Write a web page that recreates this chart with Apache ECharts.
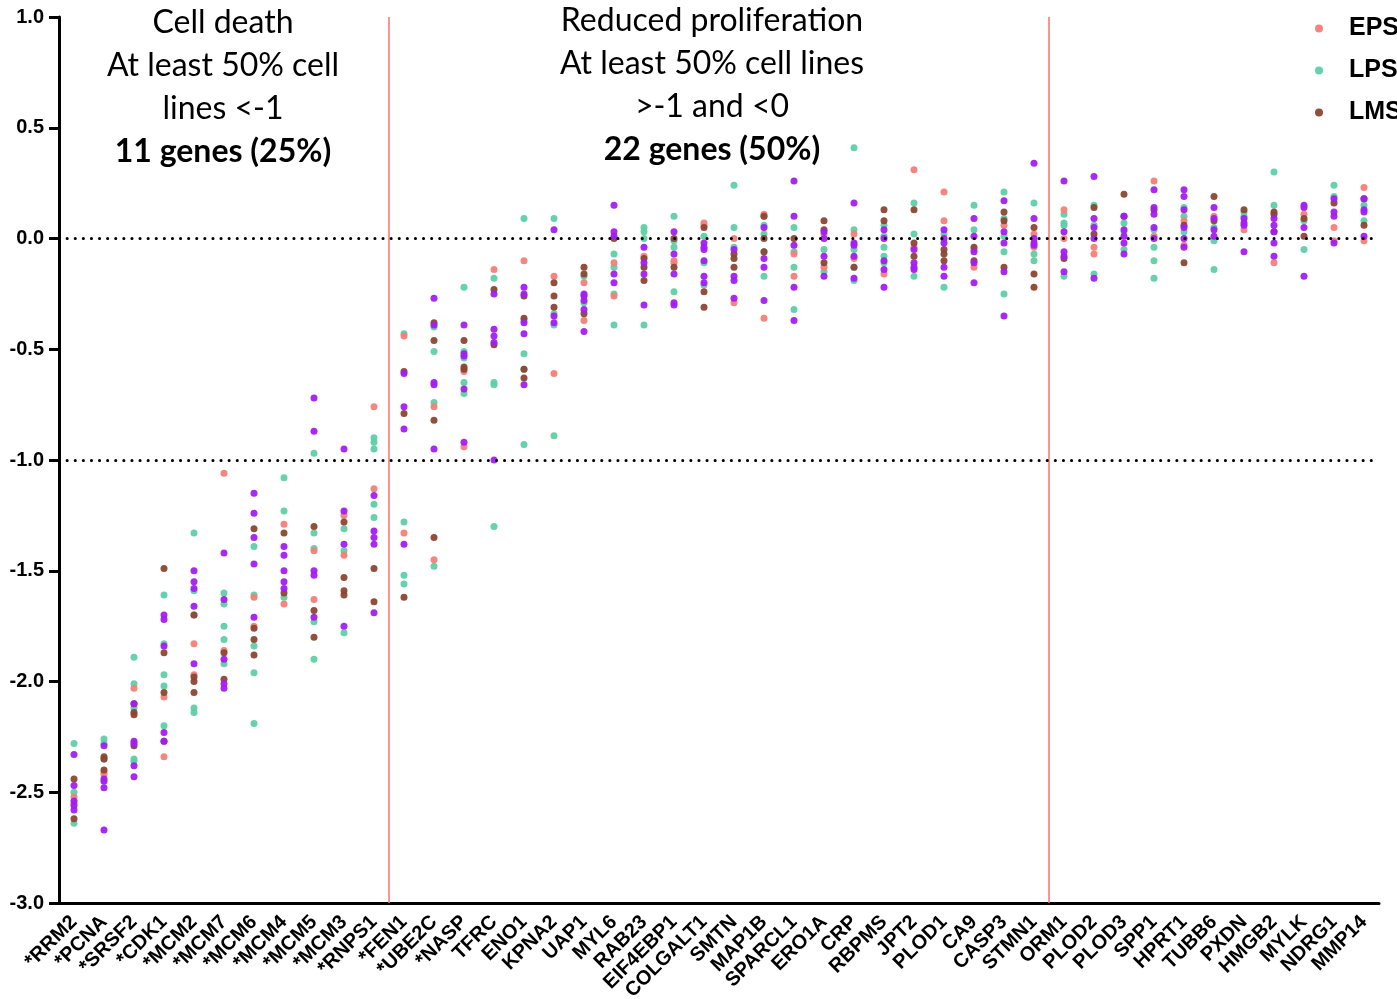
<!DOCTYPE html>
<html>
<head>
<meta charset="utf-8">
<script src="https://cdn.jsdelivr.net/npm/echarts@6/dist/echarts.min.js"></script>
<style>html,body{margin:0;padding:0;background:#fff;}#c{width:1397px;height:999px;}</style>
</head>
<body>
<div id="c"></div>
<script>
const genes = ['*RRM2','*PCNA','*SRSF2','*CDK1','*MCM2','*MCM7','*MCM6','*MCM4','*MCM5','*MCM3','*RNPS1','*FEN1','*UBE2C','*NASP','TFRC','ENO1','KPNA2','UAP1','MYL6','RAB23','EIF4EBP1','COLGALT1','SMTN','MAP1B','SPARCL1','ERO1A','CRP','RBPMS','JPT2','PLOD1','CA9','CASP3','STMN1','ORM1','PLOD2','PLOD3','SPP1','HPRT1','TUBB6','PXDN','HMGB2','MYLK','NDRG1','MMP14'];
const yTicks = [-3.0,-2.5,-2.0,-1.5,-1.0,-0.5,0.0,0.5,1.0];

const eps = [
 [-2.52,-2.55],[-2.41,-2.42],[-2.03],[-2.07,-2.34],[-1.83,-1.97],[-1.06,-1.86],[-1.62,-1.75],[-1.29,-1.65],[-1.41,-1.63],[-1.25,-1.43],[-0.76,-1.13],
 [-0.44,-1.33],[-0.76,-1.45],[-0.60,-0.94],[-0.14],[-0.10],[-0.17,-0.61],[-0.20,-0.37],[-0.11,-0.26],[-0.08],[-0.10,-0.11],[0.07,0.06],
 [0.00,-0.29],[0.11,0.10,-0.36],[-0.07,-0.17],[0.02,-0.13],[0.02,-0.09],[-0.16],[0.31,-0.04],[0.21,0.08],[-0.05,-0.13],[0.06],[0.02,-0.04],
 [0.13,0.00],[-0.04,-0.07],[],[0.26,0.01],[0.08,-0.03],[0.10],[0.04],[-0.11],[0.11],[0.05,-0.01],[0.23,-0.01]
];
const lps = [
 [-2.28,-2.50,-2.64],[-2.26,-2.28,-2.35],[-1.89,-2.01,-2.12,-2.35,-2.36],[-1.61,-1.83,-1.97,-2.02,-2.20],[-1.33,-1.59,-1.70,-2.12,-2.14],
 [-1.60,-1.65,-1.75,-1.81,-1.92],[-1.39,-1.61,-1.84,-1.96,-2.19],[-1.08,-1.23,-1.62],[-0.97,-1.33,-1.40,-1.73,-1.90],[-1.31,-1.41,-1.78],
 [-0.90,-0.92,-0.95,-1.20,-1.26],[-0.43,-1.28,-1.52,-1.56],[-0.40,-0.51,-0.74,-1.48],[-0.22,-0.51,-0.54,-0.65,-0.70],[-0.18,-0.65,-0.66,-1.30],
 [0.09,-0.37,-0.52,-0.59,-0.93],[0.09,-0.34,-0.39,-0.89],[-0.17,-0.29],[-0.07,-0.13,-0.25,-0.39],[0.05,0.03,0.00,-0.39],[0.10,-0.01,-0.04,-0.24],
 [0.01,-0.11,-0.21],[0.24,0.05,-0.04],[0.06,0.02,-0.06,-0.17],[0.05,-0.06,-0.13,-0.32],[-0.05,-0.15],[0.41,0.04,-0.05,-0.13,-0.19],
 [0.06,0.01,-0.04,-0.08,-0.11],[0.16,0.02,-0.17],[0.02,-0.22],[0.15,0.04],[0.21,0.09,0.01,-0.06,-0.25],[0.16,-0.07,-0.10],
 [0.11,0.07,0.06,-0.17],[0.15,0.06,-0.16],[0.07,0.03,-0.05],[0.04,-0.04,-0.10,-0.18],[0.14,0.10,0.03],[0.05,-0.01,-0.14],[0.12,0.10],
 [0.30,0.15],[0.08,-0.05],[0.24,0.19],[0.15,0.08]
];
const lms = [
 [-2.44,-2.62],[-2.34,-2.35,-2.40],[-2.10,-2.14,-2.15,-2.29],[-1.49,-1.87,-2.05,-2.27],[-1.70,-1.98,-2.00,-2.05],[-1.87,-1.99],
 [-1.31,-1.76,-1.81,-1.88],[-1.33,-1.60],[-1.30,-1.68,-1.80],[-1.28,-1.53,-1.59,-1.61],[-1.49,-1.64],[-0.60,-0.79,-1.62],
 [-0.38,-0.46,-0.82,-1.35],[-0.46,-0.58,-0.59],[-0.23,-0.48],[-0.26,-0.36,-0.59,-0.63],[-0.20,-0.26,-0.31],[-0.13,-0.16,-0.34],[0.00],
 [-0.09,-0.13,-0.19],[0.00,-0.13],[0.05,-0.24,-0.31],[-0.07,-0.09,-0.13],[0.10,0.00,-0.06],[0.00],[0.08,0.04,-0.11],[-0.13],[0.13,0.08],
 [0.13,-0.02,-0.08],[-0.05,-0.07,-0.10],[-0.04,-0.10],[0.12,0.08,-0.13],[0.05,-0.16,-0.22],[-0.09],[0.14,0.02],[0.20,0.10],[0.13],
 [0.06,-0.11],[0.19,0.08],[0.13],[0.12,0.11,0.03],[0.09,0.01],[0.16],[0.18,0.06]
];
const other = [
 [-2.33,-2.47,-2.54,-2.56,-2.58],[-2.29,-2.44,-2.45,-2.48,-2.67],[-2.10,-2.27,-2.28,-2.38,-2.43],[-1.70,-1.72,-1.84,-2.23,-2.27],
 [-1.50,-1.55,-1.58,-1.66,-1.92],[-1.42,-1.63,-1.90,-2.01,-2.03],[-1.15,-1.24,-1.35,-1.47,-1.71],[-1.39,-1.43,-1.50,-1.55,-1.58],
 [-0.72,-0.87,-1.50,-1.52,-1.71],[-0.95,-1.23,-1.38,-1.75],[-1.16,-1.32,-1.35,-1.38,-1.69],[-0.61,-0.76,-0.86,-1.38],
 [-0.27,-0.39,-0.65,-0.66,-0.95],[-0.39,-0.52,-0.53,-0.68,-0.92],[-0.25,-0.41,-0.44,-0.47,-1.00],[-0.22,-0.25,-0.38,-0.43,-0.66],
 [0.04,-0.35,-0.38],[-0.25,-0.26,-0.28,-0.32,-0.42],[0.15,0.03,0.01,-0.16,-0.20],[-0.04,-0.11,-0.16,-0.30],[0.03,-0.07,-0.16,-0.29,-0.30],
 [-0.02,-0.04,-0.05,-0.10,-0.17,-0.20],[-0.05,-0.17,-0.19,-0.27],[0.05,-0.09,-0.13,-0.28],[0.26,0.10,-0.03,-0.22,-0.37],[0.03,0.00,-0.08,-0.17],
 [0.16,-0.02,-0.03,-0.08,-0.18],[0.04,0.00,-0.10,-0.14,-0.22],[-0.05,-0.11,-0.13,-0.14],[0.04,0.00,-0.02,-0.13,-0.17],[0.09,0.01,-0.06,-0.11,-0.20],
 [0.17,0.03,-0.02,-0.15,-0.35],[0.34,0.09,0.00,-0.02,-0.03],[0.26,0.03,-0.06,-0.08,-0.15],[0.28,0.09,0.05,0.00,-0.18],[0.10,0.04,0.01,-0.02,-0.07],
 [0.22,0.14,0.11,0.05,0.00],[0.22,0.19,0.13,0.05,0.00,-0.04],[0.14,0.09,0.04,0.01],[0.09,0.07,0.06,-0.06],[0.09,0.06,0.03,-0.02,-0.08],
 [0.15,0.14,0.05,-0.17],[0.18,0.12,0.10,-0.02],[0.18,0.13,0.12,0.01]
];
const thresholds = [0, -1];
const groupBoundaries = [10.5, 32.5];
const block1 = ['Cell death','At least 50% cell','lines <-1','11 genes (25%)'];
const block2 = ['Reduced proliferation','At least 50% cell lines','>-1 and <0','22 genes (50%)'];

function pts(arr){ const out=[]; arr.forEach((vals,i)=>vals.forEach(v=>out.push([genes[i], v]))); return out; }

const chart = echarts.init(document.getElementById('c'), null, {renderer:'canvas'});
const dotSize = 7;
function sc(name, arr, color){
  return {name, type:'scatter', data:pts(arr), symbol:'circle', symbolSize:dotSize,
    itemStyle:{color, opacity:0.95}, emphasis:{disabled:true}, z:3};
}
const textEls = [];
block1.forEach((t,i)=>textEls.push({type:'text', x:223, y:23+43*i,
  style:{text:t, fill:'#000', font:(i===3?'bold ':'')+'32px Lato', textAlign:'center', textVerticalAlign:'middle'}}));
block2.forEach((t,i)=>textEls.push({type:'text', x:712, y:21+43*i,
  style:{text:t, fill:'#000', font:(i===3?'bold ':'')+'32px Lato', textAlign:'center', textVerticalAlign:'middle'}}));

chart.setOption({
  animation:false,
  backgroundColor:'#fff',
  grid:{left:59, right:18, top:17, bottom:96, containLabel:false, outerBoundsMode:'none'},
  legend:{data:['EPS','LPS','LMS'], orient:'vertical', left:1315, top:16, padding:0,
    itemWidth:10, itemHeight:8, itemGap:17, icon:'circle',
    textStyle:{fontFamily:'Liberation Sans', fontWeight:'bold', fontSize:25, color:'#000', padding:[0,0,0,20]}},
  xAxis:[{type:'category', data:genes, boundaryGap:true,
    axisLine:{onZero:false, lineStyle:{color:'#000', width:3}},
    axisTick:{alignWithLabel:true, length:9, lineStyle:{width:3, color:'#000'}},
    axisLabel:{interval:0, rotate:45, margin:16, fontFamily:'Liberation Sans', fontWeight:'bold', fontSize:20, color:'#000'},
    splitLine:{show:false}},
   {type:'value', min:-0.5, max:43.5, show:false}],
  yAxis:{type:'value', min:-3, max:1, interval:0.5,
    axisLine:{show:true, onZero:false, lineStyle:{color:'#000', width:3}},
    axisTick:{show:true, length:10, lineStyle:{width:3, color:'#000'}},
    axisLabel:{margin:15, fontFamily:'Liberation Sans', fontWeight:'bold', fontSize:20, color:'#000',
      formatter:v=>v.toFixed(1)},
    splitLine:{show:false}},
  graphic:textEls,
  series:[
    {type:'scatter', xAxisIndex:1, data:[], silent:true,
     markLine:{silent:true, symbol:['none','none'], label:{show:false},
       lineStyle:{color:'#FF6F6F', width:1.5, type:'solid'},
       data:groupBoundaries.map(v=>({xAxis:v}))}},
    {type:'scatter', xAxisIndex:0, data:[], silent:true,
     markLine:{silent:true, symbol:['none','none'], label:{show:false},
       lineStyle:{color:'#000', width:3, type:[0.1,8], cap:'round'},
       data:thresholds.map(v=>({yAxis:v}))}},
    sc('LPS', lps, '#5ECFA6'),
    sc('EPS', eps, '#F47F78'),
    sc('LMS', lms, '#8C4632'),
    sc('Other', other, '#A21EF2')
  ]
});
</script>
</body>
</html>
